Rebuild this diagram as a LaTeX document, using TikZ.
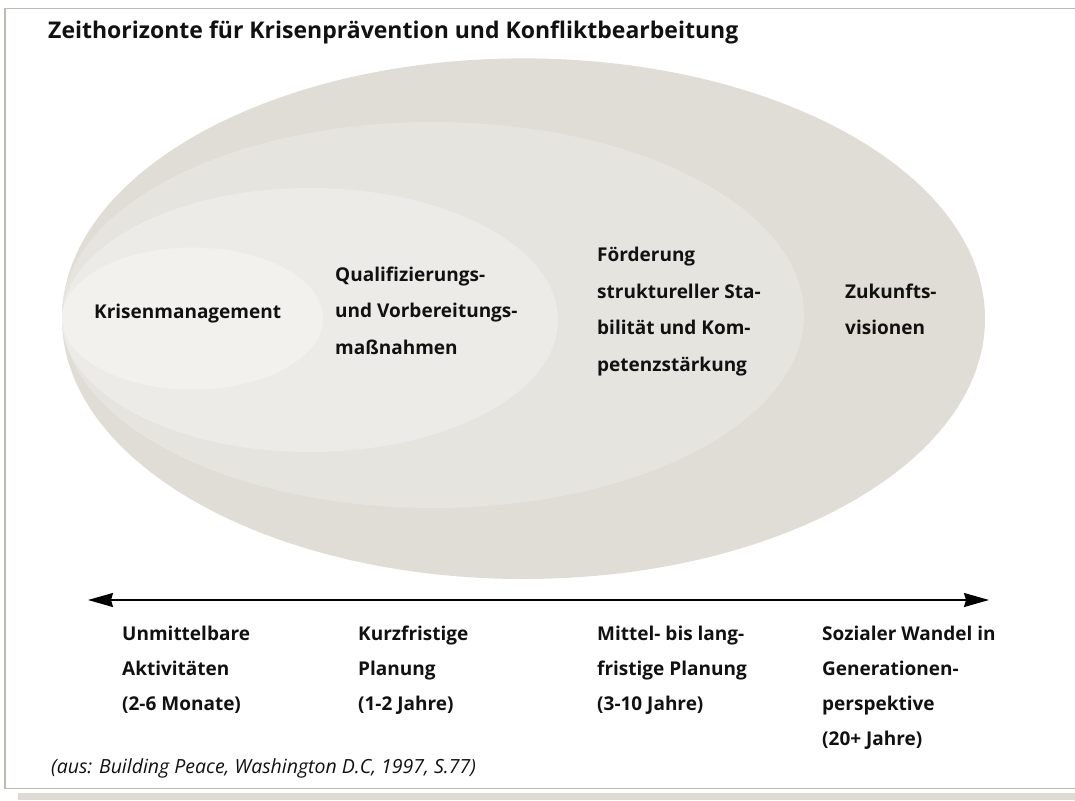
\documentclass[tikz,border=0pt]{standalone}
\usepackage{fontspec}
\setmainfont{Open Sans}
\usetikzlibrary{arrows.meta}
\definecolor{ellA}{RGB}{224,221,214}
\definecolor{ellB}{RGB}{230,228,223}
\definecolor{ellC}{RGB}{237,235,231}
\definecolor{ellD}{RGB}{242,241,238}
\definecolor{framec}{RGB}{192,187,178}
\definecolor{shadowc}{RGB}{222,219,212}
\definecolor{inkc}{RGB}{17,17,17}
\begin{document}
\begin{tikzpicture}[x=1pt,y=-1pt,
  lbl/.style={font=\bfseries\fontsize{19}{36.5}\selectfont, align=left, inner sep=0pt, anchor=base west, text=inkc},
  lblb/.style={font=\bfseries\fontsize{19}{35}\selectfont, align=left, inner sep=0pt, anchor=base west, text=inkc},
  ttl/.style={font=\bfseries\fontsize{23}{26}\selectfont, inner sep=0pt, anchor=base west, text=inkc},
  srcnote/.style={font=\itshape\fontsize{19.5}{24}\selectfont, inner sep=0pt, anchor=base west, text=inkc},
  axisline/.style={line width=1.5pt, {Stealth[length=25pt,width=14pt,inset=2pt]}-{Stealth[length=25pt,width=14pt,inset=2pt]}}]
\useasboundingbox (0,0) rectangle (1075,800);
% frame and shadow
\fill[shadowc] (18,792.5) rectangle (1075,800);
\draw[framec, line width=1.1pt] (1076,8.5) -- (5,8.5) -- (5,788.5) -- (1076,788.5);
% nested ellipses
\fill[ellA] (523.5,318.7) ellipse [x radius=461.5pt, y radius=260.3pt];
\fill[ellB] (433,315) ellipse [x radius=371pt, y radius=193pt];
\fill[ellC] (310,320) ellipse [x radius=248pt, y radius=132pt];
\fill[ellD] (192.5,318.5) ellipse [x radius=130.5pt, y radius=71pt];
% title
\node[ttl] (title) at (48,39) {Zeithorizonte für Krisenprävention und Konfliktbearbeitung};
% ellipse labels (base = baseline of last line)
\node[lbl] (km) at (94,318) {Krisenmanagement};
\node[lbl] (qv) at (335,354) {Qualifizierungs-\\und Vorbereitungs-\\maßnahmen};
\node[lbl] (fs) at (597,371) {Förderung\\struktureller Sta-\\bilität und Kom-\\petenzstärkung};
\node[lbl] (zv) at (845,334.5) {Zukunfts-\\visionen};
% time axis
\coordinate (axL) at (88,600);
\coordinate (axR) at (989,600);
\draw[axisline] (axL) -- (axR);
% bottom labels
\node[lblb] (t1) at (122,710) {Unmittelbare\\Aktivitäten\\(2-6 Monate)};
\node[lblb] (t2) at (358,710) {Kurzfristige\\Planung\\(1-2 Jahre)};
\node[lblb] (t3) at (597,710) {Mittel- bis lang-\\fristige Planung\\(3-10 Jahre)};
\node[lblb] (t4) at (822,745) {Sozialer Wandel in\\Generationen-\\perspektive\\(20+ Jahre)};
% caption
\node[srcnote] (src) at (51,773) {(aus: Building Peace, Washington D.C, 1997, S.77)};
\end{tikzpicture}
\end{document}
